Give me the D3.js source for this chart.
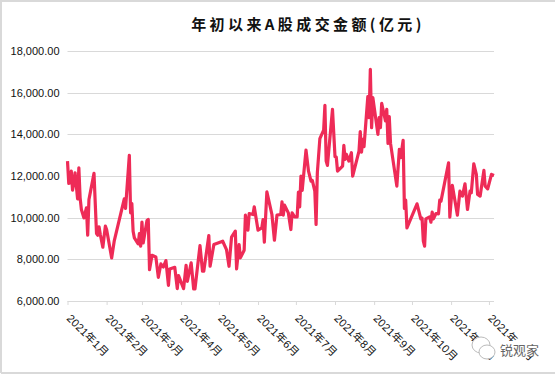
<!DOCTYPE html>
<html>
<head>
<meta charset="utf-8">
<script src="https://cdn.jsdelivr.net/npm/d3@7"></script>
<style>
  html, body { margin: 0; padding: 0; background: #fff; }
  svg { display: block; }
  text { font-family: "Liberation Sans", "Noto Sans CJK SC", sans-serif; }
</style>
</head>
<body>
<div id="chart"></div>
<script>
const chartTitle = "年初以来A股成交金额(亿元)";
const watermark = "锐观家";

// days since 2021-01-01
const days = [0,1,2,3,4,5,6,8,9,10,11,13,15,16,17,21,23,24,25,26,28,30,31,35,37,45,46,49,50,51,52,53,56,57,58,59,60,63,64,65,67,70,72,74,76,78,80,81,85,87,88,92,94,95,98,100,101,105,107,108,112,113,116,123,126,128,130,133,134,136,137,140,141,143,144,147,148,151,154,155,156,158,162,164,166,169,170,171,172,175,177,178,180,182,183,184,185,186,189,191,193,194,196,197,198,200,203,204,205,206,210,212,213,214,218,219,220,221,223,225,226,231,232,233,234,235,238,239,240,241,242,246,247,248,249,252,253,254,255,256,261,263,264,266,267,268,269,277,280,281,282,283,284,287,288,289,290,292,294,295,296,302,303,305,309,311,313,315,317,319,320,322,324,325,327,330,331,333,336,338];
// turnover, 100m yuan
const amounts = [12717,11643,11675,12236,11322,11675,12156,10905,12396,10953,10392,9991,10472,9158,10873,12124,9238,9158,9559,9190,8581,9591,9430,8068,8869,10905,10440,12989,10232,10681,9350,9030,8741,9238,8629,9783,8789,9863,9911,7507,8196,8116,7138,7779,7635,7940,6753,7539,7619,6593,7218,6593,7715,6946,7827,6577,6577,8661,7427,7427,9142,7667,8709,8869,8469,7667,9062,9350,7539,8709,8068,8437,10120,9398,10200,10152,10521,9398,9511,9911,8821,11242,10152,8917,10120,10152,10761,10120,10601,10232,9430,10232,10040,10040,11226,10521,11995,11306,13246,12236,11755,11787,11274,9671,12156,13791,14207,15394,12717,12508,15201,12925,12909,12236,12476,13470,12797,13037,12717,13117,11995,13197,14127,13149,13759,13406,15811,14800,17125,14320,15762,13999,14800,14320,15490,14640,15201,13566,14848,13566,11514,13278,12877,13711,10440,10841,9511,10665,9943,9975,8869,8629,9943,10040,9783,10264,9943,10200,10184,10841,10793,12636,10024,11546,10120,11274,11033,11627,10392,11274,11194,12588,12076,11114,11033,12268,11514,11386,12076,12027];

const yTicks = [6000,8000,10000,12000,14000,16000,18000];
const monthLabels = ["2021年1月","2021年2月","2021年3月","2021年4月","2021年5月","2021年6月","2021年7月","2021年8月","2021年9月","2021年10月","2021年11月","2021年12月"];

const width = 555, height = 374;
const margin = { top: 51, right: 61, bottom: 73, left: 67.5 };
const start = new Date(2021, 0, 1);

const svg = d3.select("#chart").append("svg")
  .attr("width", width)
  .attr("height", height);

// outer chart frame (only top, left and bottom show in the crop)
svg.append("path")
  .attr("d", `M1,${height - 1}V1H${width}M1,${height - 1}H${width}`)
  .attr("fill", "none")
  .attr("stroke", "#d9d9d9")
  .attr("stroke-width", 2);

const x = d3.scaleTime()
  .domain([start, d3.timeDay.offset(start, 338)])
  .range([margin.left, width - margin.right]);

const y = d3.scaleLinear()
  .domain([6000, 18000])
  .range([height - margin.bottom, margin.top]);

// y axis + gridlines
const yAxis = svg.append("g")
  .attr("transform", `translate(${margin.left},0)`)
  .call(d3.axisLeft(y).tickValues(yTicks).tickSize(0).tickPadding(8).tickFormat(d3.format(",.2f")));
yAxis.select(".domain").remove();
yAxis.selectAll("text").attr("font-size", 11).attr("fill", "#111").style("font-family", null);

svg.append("g").selectAll("line")
  .data(yTicks.filter(d => d > 6000))
  .join("line")
  .attr("x1", margin.left)
  .attr("x2", width - margin.right)
  .attr("y1", d => Math.round(y(d)) + 0.5)
  .attr("y2", d => Math.round(y(d)) + 0.5)
  .attr("stroke", "#d9d9d9")
  .attr("stroke-width", 1);

// x axis, one tick per month
const monthTicks = monthLabels.map((d, i) => new Date(2021, i, 1));
const xAxis = svg.append("g")
  .attr("transform", `translate(0,${height - margin.bottom})`)
  .call(d3.axisBottom(x).tickValues(monthTicks).tickSize(4).tickFormat((d, i) => monthLabels[i]));
xAxis.select(".domain").attr("stroke", "#d9d9d9").attr("d", `M${margin.left},0.5H${width - margin.right}`);
xAxis.selectAll(".tick line").attr("stroke", "#d9d9d9");
xAxis.selectAll(".tick text")
  .attr("font-size", 11)
  .attr("letter-spacing", 0.2)
  .attr("fill", "#111")
  .style("font-family", null)
  .attr("text-anchor", "start")
  .attr("dy", 0)
  .attr("y", 0)
  .attr("transform", "translate(-2,18) rotate(45)");

// turnover line
const line = d3.line()
  .x((d, i) => x(d3.timeDay.offset(start, days[i])))
  .y(d => y(d));

svg.append("path")
  .attr("d", line(amounts))
  .attr("fill", "none")
  .attr("stroke", "#ee2b57")
  .attr("stroke-width", 3.2)
  .attr("stroke-linejoin", "round");

svg.append("text")
  .attr("x", 308)
  .attr("y", 30)
  .attr("text-anchor", "middle")
  .attr("font-size", 15)
  .attr("font-weight", 700)
  .attr("letter-spacing", 3.4)
  .attr("fill", "#111")
  .style("font-family", '"Noto Sans CJK SC", sans-serif')
  .text(chartTitle);

// watermark in the lower right corner, it sits over the month labels
const wm = svg.append("g");
wm.append("rect")
  .attr("x", 470).attr("y", 341).attr("width", 70).attr("height", 15)
  .attr("fill", "#fff");
wm.append("ellipse")
  .attr("cx", 481).attr("cy", 345).attr("rx", 9).attr("ry", 8)
  .attr("fill", "#fff").attr("stroke", "#bbb");
wm.append("ellipse")
  .attr("cx", 487).attr("cy", 352).attr("rx", 8).attr("ry", 7)
  .attr("fill", "#fff").attr("stroke", "#bbb");
wm.append("text")
  .attr("x", 500).attr("y", 355)
  .attr("font-size", 13)
  .attr("fill", "#666")
  .style("font-family", '"Noto Sans CJK SC", sans-serif')
  .text(watermark);
</script>
</body>
</html>
